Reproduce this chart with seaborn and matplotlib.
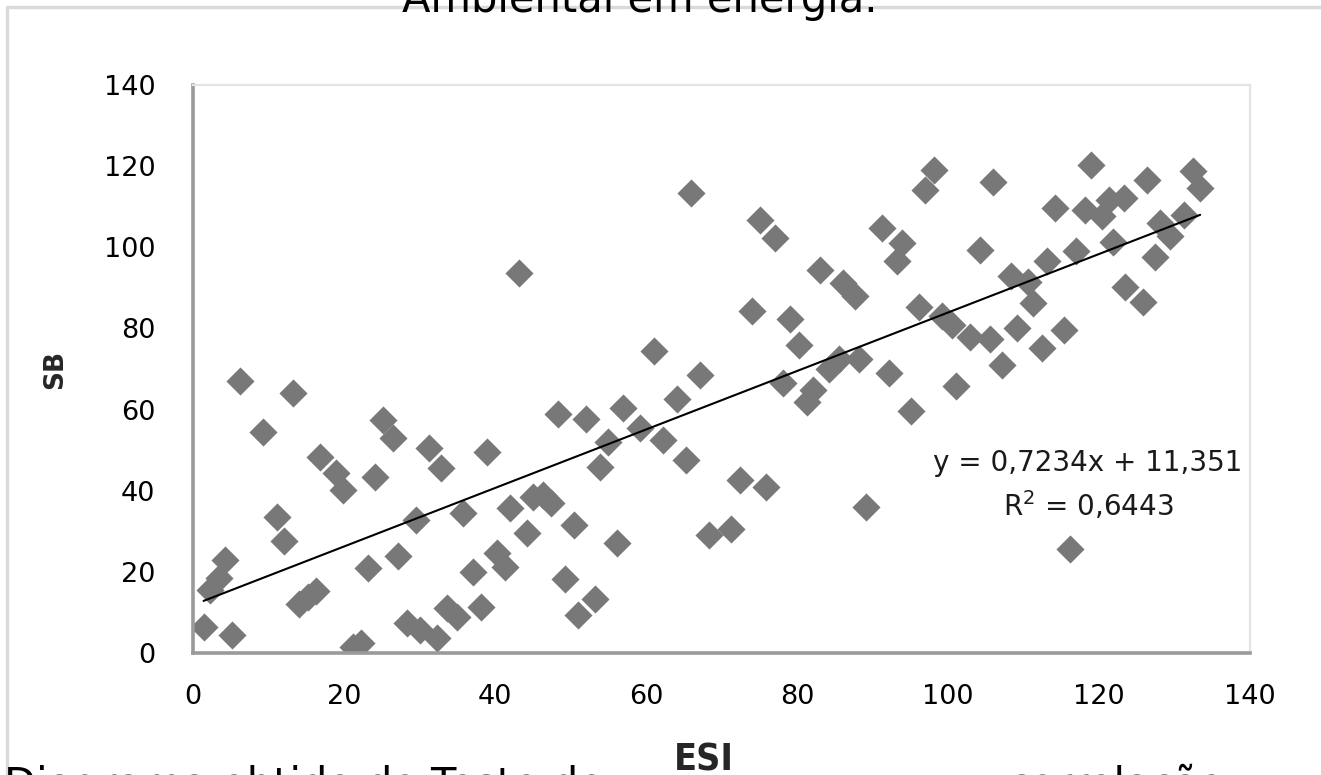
import matplotlib
matplotlib.use("Agg")
import matplotlib.pyplot as plt
from matplotlib.lines import Line2D
import seaborn as sns
import pandas as pd

# ---- data ----
esi = [1.4, 2.2, 3.5, 4.2, 5.1, 6.2, 9.3, 11.1, 12.1, 13.3, 14.0, 15.2, 16.3, 16.8,
       19.0, 19.9, 21.2, 22.3, 23.2, 24.1, 25.2, 26.5, 27.2, 28.3, 29.6, 30.1, 31.2,
       32.3, 32.9, 33.6, 35.0, 35.8, 37.1, 38.2, 38.9, 40.2, 41.3, 42.0, 43.2, 44.3,
       45.0, 46.3, 47.4, 48.3, 49.3, 50.5, 51.0, 52.1, 53.2, 53.9, 55.0, 56.1, 56.9,
       59.2, 61.0, 62.2, 64.1, 65.3, 66.0, 67.2, 68.4, 71.3, 72.5, 74.1, 75.1, 75.9,
       77.1, 78.2, 79.1, 80.2, 81.3, 82.1, 83.0, 84.3, 85.5, 86.1, 87.7, 88.2, 89.2,
       91.2, 92.2, 93.2, 93.9, 95.1, 96.1, 97.0, 98.1, 99.2, 100.5, 101.1, 102.9,
       104.2, 105.6, 106.0, 107.1, 108.4, 109.1, 110.6, 111.3, 112.4, 113.1, 114.2,
       115.3, 116.2, 117.0, 118.1, 119.0, 120.4, 121.3, 121.9, 123.3, 123.5, 125.8,
       126.3, 127.4, 128.1, 129.4, 131.2, 132.5, 133.4]
sb = [6.5, 15.5, 18.5, 23.0, 4.4, 67.0, 54.5, 33.5, 27.5, 64.0, 12.0, 13.8, 15.3, 48.3,
      44.3, 40.2, 1.5, 2.5, 21.0, 43.3, 57.5, 53.0, 23.8, 7.3, 32.8, 5.7, 50.5,
      3.6, 45.5, 11.0, 8.8, 34.4, 20.0, 11.4, 49.6, 24.6, 21.3, 35.7, 93.6, 29.7,
      38.5, 39.0, 37.0, 59.0, 18.3, 31.6, 9.4, 57.6, 13.4, 45.9, 52.1, 27.0, 60.3,
      55.4, 74.5, 52.5, 62.5, 47.6, 113.3, 68.5, 29.1, 30.5, 42.7, 84.4, 106.8, 41.0,
      102.2, 66.5, 82.3, 75.9, 61.8, 64.8, 94.4, 70.0, 72.5, 91.1, 88.0, 72.5, 36.1,
      104.7, 69.0, 96.5, 101.0, 59.7, 85.4, 114.2, 119.1, 83.0, 80.8, 65.7, 78.0,
      99.4, 77.5, 116.2, 71.0, 92.8, 80.0, 91.5, 86.2, 75.1, 96.5, 109.8,
      79.6, 25.7, 99.0, 109.2, 120.3, 107.6, 111.7, 101.4, 112.1, 90.3, 86.5,
      116.7, 97.7, 105.9, 102.7, 108.0, 118.7, 114.6]
x_ticks = [0, 20, 40, 60, 80, 100, 120, 140]
y_ticks = [0, 20, 40, 60, 80, 100, 120, 140]
eq_text = "y = 0,7234x + 11,351"
r2_text = "R$^2$ = 0,6443"
x_label = "ESI"
y_label = "SB"
top_text = "Ambiental em energia."
bottom_text_left = "Diagrama obtido do Teste de"
bottom_text_right = "correlação"

df = pd.DataFrame({"ESI": esi, "SB": sb})

sns.set_style("white")
plt.rcParams["font.family"] = ["DejaVu Sans"]

W, H = 1321, 775
fig = plt.figure(figsize=(W / 100, H / 100), dpi=100)
ax = fig.add_axes([193 / W, 1 - 653 / H, (1250 - 193) / W, (653 - 85) / H])

sns.regplot(data=df, x="ESI", y="SB", ax=ax, ci=None, marker="D",
            scatter_kws=dict(s=205, color="#787878", linewidths=0, alpha=1),
            line_kws=dict(color="black", lw=1.5))

ax.set_xlim(0, 140)
ax.set_ylim(0, 140)
ax.set_xticks(x_ticks)
ax.set_yticks(y_ticks)
ax.set_xticklabels([str(t) for t in x_ticks])
ax.set_yticklabels([str(t) for t in y_ticks])
ax.tick_params(axis="both", which="major", direction="out", length=8, width=2,
               color="#999999", labelsize=19.5, labelcolor="black")
ax.tick_params(axis="x", pad=14)
ax.tick_params(axis="y", pad=19)

for side in ["left", "bottom"]:
    ax.spines[side].set_color("#9a9a9a")
    ax.spines[side].set_linewidth(2.6)
for side in ["top", "right"]:
    ax.spines[side].set_visible(True)
    ax.spines[side].set_color("#e4e4e4")
    ax.spines[side].set_linewidth(1.6)
ax.grid(False)

ax.set_ylabel(y_label, fontsize=19, fontweight="bold", va="center")
ax.yaxis.set_label_coords(-0.1306, 0.5)
ax.set_xlabel(x_label, fontsize=27, fontweight="bold", fontstretch="condensed",
              va="baseline")
ax.xaxis.set_label_coords(0.4834, -0.2060)

ax.text(0.8467, 0.3345, eq_text, transform=ax.transAxes, ha="center", va="center",
        fontsize=20, color="#1a1a1a")
ax.text(0.8467, 0.2588, r2_text, transform=ax.transAxes, ha="center", va="center",
        fontsize=20, color="#1a1a1a")

# outer chart border (partially visible, as in the cropped reference)
fig.add_artist(Line2D([7 / W, 1.0], [1 - 7 / H, 1 - 7 / H], transform=fig.transFigure,
                      color="#dadada", lw=2.4))
fig.add_artist(Line2D([7 / W, 7 / W], [0.0, 1 - 7 / H], transform=fig.transFigure,
                      color="#dadada", lw=2.4))

# cropped surrounding document text
fig.text(640 / W, 1 - 12 / H, top_text, ha="center", va="baseline", fontsize=30,
         color="black")
fig.text(4 / W, 1 - 765 / H, bottom_text_left, ha="left", va="top", fontsize=30,
         color="black")
fig.text(1225 / W, 1 - 765 / H, bottom_text_right, ha="right", va="top", fontsize=30,
         color="black")

fig.savefig("out.png", dpi=100, facecolor="white")
